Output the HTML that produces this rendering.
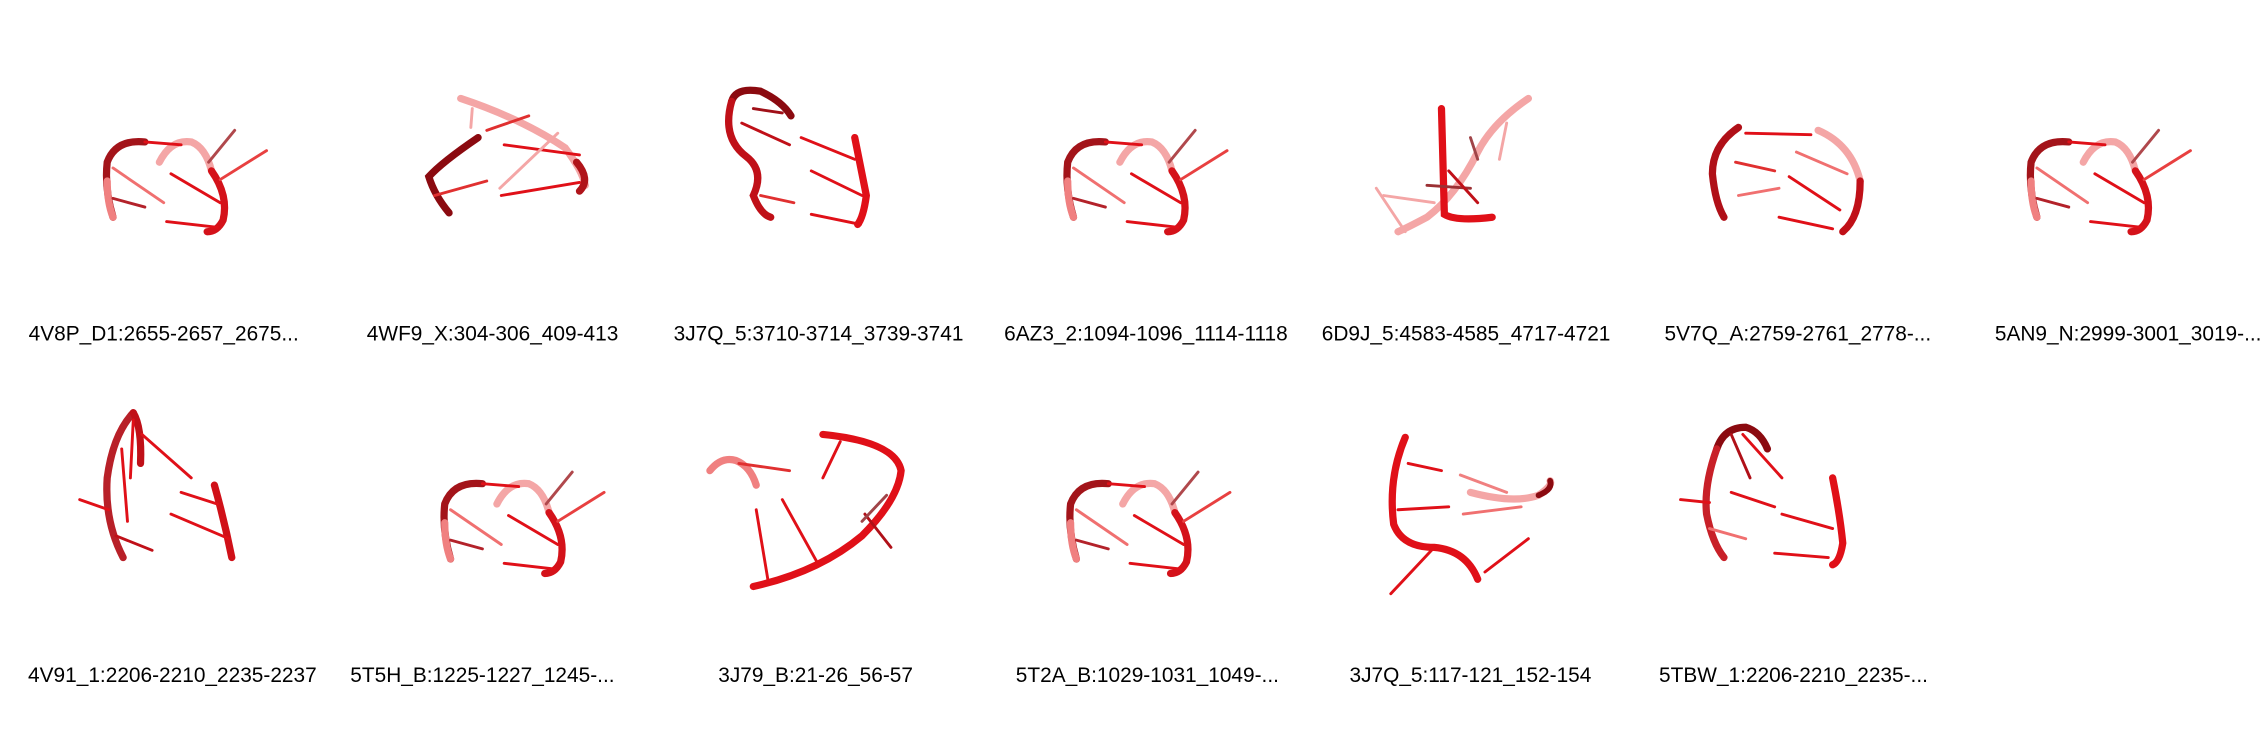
<!DOCTYPE html>
<html><head><meta charset="utf-8"><style>
html,body{margin:0;padding:0;background:#fff;}
svg{display:block;}
text{font-family:"Liberation Sans",Arial,sans-serif;font-size:14.4px;fill:#000;}
</style></head><body>
<svg width="2260" height="740" viewBox="0 0 1560 511" preserveAspectRatio="none" xmlns="http://www.w3.org/2000/svg">
<defs>
<g id="motifA" stroke-linecap="round" fill="none">
  <path d="M110,112 Q118,96 132,98 Q142,102 146,118" stroke="#f4a6a6" stroke-width="5"/>
  <path d="M146,118 Q158,135 154,152 Q150,160 143,160" stroke="#d4121a" stroke-width="5"/>
  <path d="M100,98 Q80,96 74,112 Q72,130 78,150" stroke="#a3141a" stroke-width="5"/>
  <path d="M74,125 Q74,140 78,150" stroke="#f08080" stroke-width="5"/>
  <path d="M78,116 L113,140" stroke="#f07070" stroke-width="2"/>
  <path d="M78,137 L100,143" stroke="#b3222a" stroke-width="2"/>
  <path d="M115,153 L150,157" stroke="#e01018" stroke-width="2"/>
  <path d="M118,120 L152,140" stroke="#e01018" stroke-width="2"/>
  <path d="M152,124 L184,104" stroke="#e84040" stroke-width="2"/>
  <path d="M144,112 L162,90" stroke="#b0484c" stroke-width="2"/>
  <path d="M100,98 L125,100" stroke="#e01018" stroke-width="2"/>
</g>
</defs>
<g><use href="#motifA"/></g>
<g stroke-linecap="round" fill="none">
  <path d="M318,68 Q360,82 390,102 Q402,118 404,128" stroke="#f4a6a6" stroke-width="5"/>
  <path d="M398,112 Q408,124 400,132" stroke="#b0141a" stroke-width="5"/>
  <path d="M330,95 Q305,112 296,122 Q300,135 310,147" stroke="#8b0a10" stroke-width="5"/>
  <path d="M300,135 L336,125" stroke="#e03030" stroke-width="2"/>
  <path d="M346,135 L400,126" stroke="#e01018" stroke-width="2"/>
  <path d="M348,100 L400,107" stroke="#e01018" stroke-width="2"/>
  <path d="M345,130 L385,92" stroke="#f4a6a6" stroke-width="2"/>
  <path d="M336,90 L365,80" stroke="#e03030" stroke-width="2"/>
  <path d="M326,75 L325,88" stroke="#f4a6a6" stroke-width="2"/>
</g>
<g stroke-linecap="round" fill="none">
  <path d="M505,70 Q508,60 525,63 Q540,70 546,80" stroke="#8b0a10" stroke-width="5"/>
  <path d="M505,70 Q498,95 515,108 Q528,118 520,135 Q525,148 532,150" stroke="#c01018" stroke-width="5"/>
  <path d="M590,95 Q595,120 598,135 Q596,150 592,155" stroke="#e01018" stroke-width="5"/>
  <path d="M512,85 L545,100" stroke="#c01018" stroke-width="2"/>
  <path d="M520,75 L540,78" stroke="#a01018" stroke-width="2"/>
  <path d="M560,118 L595,135" stroke="#e01018" stroke-width="2"/>
  <path d="M560,148 L594,155" stroke="#e01018" stroke-width="2"/>
  <path d="M525,135 L548,140" stroke="#e03030" stroke-width="2"/>
  <path d="M553,95 L590,110" stroke="#e01018" stroke-width="2"/>
</g>
<g transform="translate(663,0)"><use href="#motifA"/></g>
<g stroke-linecap="round" fill="none">
  <path d="M1055,68 Q1030,85 1020,105 Q1005,135 985,150 Q970,158 965,160" stroke="#f4a6a6" stroke-width="5"/>
  <path d="M995,75 Q996,110 997,148 Q1005,153 1030,150" stroke="#e01018" stroke-width="5"/>
  <path d="M950,130 L970,160" stroke="#f4a6a6" stroke-width="2"/>
  <path d="M955,135 L990,140" stroke="#f4a6a6" stroke-width="2"/>
  <path d="M985,128 L1015,130" stroke="#9b3034" stroke-width="2"/>
  <path d="M1000,118 L1020,140" stroke="#c01018" stroke-width="2"/>
  <path d="M1040,85 L1035,110" stroke="#f4a6a6" stroke-width="2"/>
  <path d="M1015,95 L1020,110" stroke="#a04448" stroke-width="2"/>
</g>
<g stroke-linecap="round" fill="none">
  <path d="M1200,88 Q1182,100 1182,120 Q1184,140 1190,150" stroke="#b01018" stroke-width="5"/>
  <path d="M1255,90 Q1278,100 1284,125" stroke="#f4a6a6" stroke-width="5"/>
  <path d="M1284,125 Q1284,150 1272,160" stroke="#c01018" stroke-width="5"/>
  <path d="M1205,92 L1250,93" stroke="#e01018" stroke-width="2"/>
  <path d="M1198,112 L1225,118" stroke="#e03030" stroke-width="2"/>
  <path d="M1200,135 L1228,130" stroke="#f07070" stroke-width="2"/>
  <path d="M1235,122 L1270,145" stroke="#e01018" stroke-width="2"/>
  <path d="M1228,150 L1265,158" stroke="#e01018" stroke-width="2"/>
  <path d="M1240,105 L1275,120" stroke="#f07070" stroke-width="2"/>
</g>
<g transform="translate(1328,0)"><use href="#motifA"/></g>

<g stroke-linecap="round" fill="none">
  <path d="M92,285 Q78,300 74,330 Q72,360 85,385" stroke="#b82028" stroke-width="5"/>
  <path d="M92,285 Q98,295 97,320" stroke="#c01018" stroke-width="5"/>
  <path d="M148,335 Q155,360 160,385" stroke="#d01018" stroke-width="5"/>
  <path d="M92,290 L90,330" stroke="#e01018" stroke-width="2"/>
  <path d="M98,300 L132,330" stroke="#e01018" stroke-width="2"/>
  <path d="M84,310 L88,360" stroke="#e01018" stroke-width="2"/>
  <path d="M55,345 L75,352" stroke="#e01018" stroke-width="2"/>
  <path d="M80,370 L105,380" stroke="#c01018" stroke-width="2"/>
  <path d="M125,340 L150,348" stroke="#e01018" stroke-width="2"/>
  <path d="M118,355 L158,372" stroke="#e01018" stroke-width="2"/>
</g>
<g transform="translate(233,236)"><use href="#motifA"/></g>
<g stroke-linecap="round" fill="none">
  <path d="M520,405 Q565,395 595,370 Q620,345 622,325 Q618,305 568,300" stroke="#e01018" stroke-width="5"/>
  <path d="M490,325 Q498,315 508,318 Q518,322 522,335" stroke="#f08080" stroke-width="5"/>
  <path d="M540,345 L565,390" stroke="#e01018" stroke-width="2"/>
  <path d="M522,352 L530,400" stroke="#e01018" stroke-width="2"/>
  <path d="M568,330 L580,305" stroke="#e01018" stroke-width="2"/>
  <path d="M510,320 L545,325" stroke="#e03030" stroke-width="2"/>
  <path d="M597,355 L615,378" stroke="#b01018" stroke-width="2"/>
  <path d="M595,360 L612,342" stroke="#a04448" stroke-width="2"/>
</g>
<g transform="translate(665,236)"><use href="#motifA"/></g>
<g stroke-linecap="round" fill="none">
  <path d="M970,302 Q958,330 962,362 Q968,378 990,378 Q1012,380 1020,400" stroke="#e01018" stroke-width="5"/>
  <path d="M1015,340 Q1045,348 1062,342 Q1072,335 1070,332" stroke="#f4a6a6" stroke-width="5"/>
  <path d="M1062,342 Q1072,338 1070,332" stroke="#8b0a10" stroke-width="4"/>
  <path d="M972,320 L995,325" stroke="#e01018" stroke-width="2"/>
  <path d="M965,352 L1000,350" stroke="#e01018" stroke-width="2"/>
  <path d="M1008,328 L1040,340" stroke="#f08080" stroke-width="2"/>
  <path d="M960,410 L990,378" stroke="#e01018" stroke-width="2"/>
  <path d="M1025,395 L1055,372" stroke="#e01018" stroke-width="2"/>
  <path d="M1010,355 L1050,350" stroke="#f07070" stroke-width="2"/>
</g>
<g stroke-linecap="round" fill="none">
  <path d="M1185,310 Q1190,295 1205,295 Q1215,298 1220,310" stroke="#8b0a10" stroke-width="5"/>
  <path d="M1185,310 Q1176,335 1178,355 Q1182,375 1190,385" stroke="#c82028" stroke-width="5"/>
  <path d="M1265,330 Q1270,355 1272,375 Q1270,388 1265,390" stroke="#e01018" stroke-width="5"/>
  <path d="M1195,300 L1208,330" stroke="#b01018" stroke-width="2"/>
  <path d="M1203,300 L1230,330" stroke="#e01018" stroke-width="2"/>
  <path d="M1160,345 L1180,347" stroke="#e01018" stroke-width="2"/>
  <path d="M1195,340 L1225,350" stroke="#e01018" stroke-width="2"/>
  <path d="M1230,355 L1265,365" stroke="#e01018" stroke-width="2"/>
  <path d="M1225,382 L1262,385" stroke="#e01018" stroke-width="2"/>
  <path d="M1180,365 L1205,372" stroke="#f07070" stroke-width="2"/>
</g>

<g text-anchor="middle">
<text x="113" y="235">4V8P_D1:2655-2657_2675...</text>
<text x="340" y="235">4WF9_X:304-306_409-413</text>
<text x="565" y="235">3J7Q_5:3710-3714_3739-3741</text>
<text x="791" y="235">6AZ3_2:1094-1096_1114-1118</text>
<text x="1012" y="235">6D9J_5:4583-4585_4717-4721</text>
<text x="1241" y="235">5V7Q_A:2759-2761_2778-...</text>
<text x="1469" y="235">5AN9_N:2999-3001_3019-...</text>
<text x="119" y="471">4V91_1:2206-2210_2235-2237</text>
<text x="333" y="471">5T5H_B:1225-1227_1245-...</text>
<text x="563" y="471">3J79_B:21-26_56-57</text>
<text x="792" y="471">5T2A_B:1029-1031_1049-...</text>
<text x="1015" y="471">3J7Q_5:117-121_152-154</text>
<text x="1238" y="471">5TBW_1:2206-2210_2235-...</text>
</g>
</svg>
</body></html>
